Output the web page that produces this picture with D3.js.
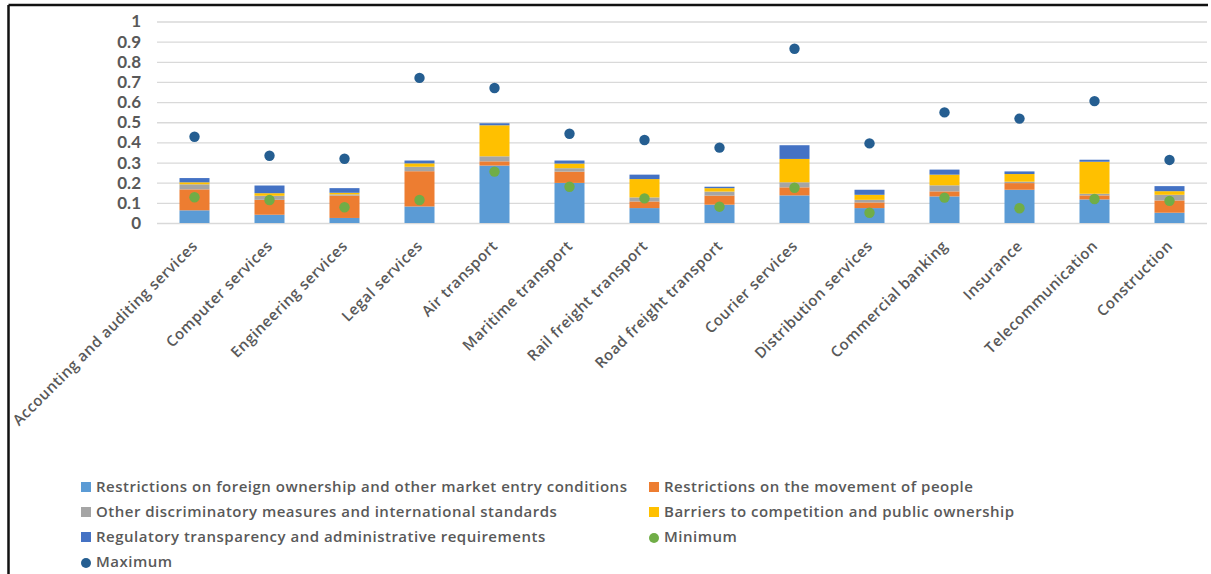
<!DOCTYPE html>
<html>
<head>
<meta charset="utf-8">
<script src="https://cdn.jsdelivr.net/npm/d3@7"></script>
<style>
  html, body { margin: 0; padding: 0; background: #fff; }
  svg { display: block; }
</style>
</head>
<body>
<svg id="chart" width="1211" height="574"></svg>
<script>
// sectors on the x axis
const sectors = [
  'Accounting and auditing services', 'Computer services', 'Engineering services',
  'Legal services', 'Air transport', 'Maritime transport', 'Rail freight transport',
  'Road freight transport', 'Courier services', 'Distribution services',
  'Commercial banking', 'Insurance', 'Telecommunication', 'Construction'
];

// stacked components
const foreignEntry = [0.063, 0.041, 0.025, 0.082, 0.285, 0.199, 0.074, 0.091, 0.137, 0.074, 0.132, 0.165, 0.117, 0.051];
const movementPeople = [0.104, 0.074, 0.111, 0.175, 0.021, 0.056, 0.033, 0.045, 0.040, 0.028, 0.025, 0.033, 0.020, 0.061];
const otherDiscrim = [0.025, 0.020, 0.006, 0.022, 0.025, 0.017, 0.020, 0.020, 0.025, 0.013, 0.030, 0.007, 0.008, 0.028];
const competition = [0.010, 0.013, 0.008, 0.017, 0.154, 0.023, 0.091, 0.017, 0.116, 0.025, 0.053, 0.038, 0.159, 0.018];
const transparency = [0.021, 0.038, 0.023, 0.014, 0.010, 0.015, 0.022, 0.007, 0.068, 0.025, 0.025, 0.013, 0.010, 0.025];

// markers
const minimum = [0.128, 0.114, 0.078, 0.114, 0.255, 0.180, 0.122, 0.081, 0.175, 0.051, 0.126, 0.073, 0.119, 0.110];
const maximum = [0.428, 0.334, 0.319, 0.720, 0.670, 0.443, 0.412, 0.374, 0.865, 0.395, 0.549, 0.518, 0.605, 0.313];

const yTicks = [0, 0.1, 0.2, 0.3, 0.4, 0.5, 0.6, 0.7, 0.8, 0.9, 1];

const seriesNames = [
  'Restrictions on foreign ownership and other market entry conditions',
  'Restrictions on the movement of people',
  'Other discriminatory measures and international standards',
  'Barriers to competition and public ownership',
  'Regulatory transparency and administrative requirements'
];
const seriesColors = ['#5B9BD5', '#ED7D31', '#A5A5A5', '#FFC000', '#4472C4'];
const minColor = '#70AD47', maxColor = '#255E91';

const width = 1211, height = 574;
const plot = { left: 157, right: 1207, top: 21.5, bottom: 223 };
const font = '"Open Sans", Lato, sans-serif';

const svg = d3.select('#chart');
svg.append('rect').attr('width', width).attr('height', height).attr('fill', '#fff');

// frame of the cropped figure
svg.append('line').attr('x1', 8.5).attr('x2', 1208).attr('y1', 5).attr('y2', 5)
  .attr('stroke', '#111').attr('stroke-width', 2.5);
svg.append('line').attr('x1', 8.5).attr('x2', 8.5).attr('y1', 5).attr('y2', height)
  .attr('stroke', '#111').attr('stroke-width', 2.5);

const x = d3.scaleBand()
  .domain(sectors)
  .range([plot.left, plot.right])
  .paddingInner(0.6)
  .paddingOuter(0.3);

const y = d3.scaleLinear()
  .domain([0, 1])
  .range([plot.bottom, plot.top]);

// gridlines + y labels
svg.append('g')
  .attr('transform', `translate(${plot.left},0)`)
  .call(d3.axisLeft(y).tickValues(yTicks).tickFormat(d => d3.format('~g')(d)).tickSize(0).tickPadding(16))
  .call(g => g.select('.domain').remove())
  .call(g => g.selectAll('.tick line').clone()
    .attr('x2', plot.right - plot.left)
    .attr('stroke', '#D9D9D9')
    .attr('stroke-width', 1.3))
  .call(g => g.selectAll('.tick text')
    .attr('fill', '#595959')
    .attr('font-family', 'Lato, sans-serif')
    .attr('font-weight', 700)
    .attr('font-size', 17));

// stacked bars
const rows = sectors.map((s, i) => ({
  sector: s,
  s0: foreignEntry[i], s1: movementPeople[i], s2: otherDiscrim[i],
  s3: competition[i], s4: transparency[i]
}));
const stack = d3.stack().keys(['s0', 's1', 's2', 's3', 's4']);
const series = stack(rows);

svg.append('g')
  .selectAll('g')
  .data(series)
  .join('g')
    .attr('fill', (d, i) => seriesColors[i])
  .selectAll('rect')
  .data(d => d)
  .join('rect')
    .attr('x', d => x(d.data.sector))
    .attr('width', x.bandwidth())
    .attr('y', d => y(d[1]))
    .attr('height', d => y(d[0]) - y(d[1]));

// minimum and maximum markers
svg.append('g')
  .selectAll('circle')
  .data(sectors)
  .join('circle')
    .attr('cx', d => x(d) + x.bandwidth() / 2)
    .attr('cy', (d, i) => y(minimum[i]))
    .attr('r', 5.2)
    .attr('fill', minColor);

svg.append('g')
  .selectAll('circle')
  .data(sectors)
  .join('circle')
    .attr('cx', d => x(d) + x.bandwidth() / 2)
    .attr('cy', (d, i) => y(maximum[i]))
    .attr('r', 5.2)
    .attr('fill', maxColor);

// rotated category labels
svg.append('g')
  .selectAll('text')
  .data(sectors)
  .join('text')
    .attr('transform', d => `translate(${x(d) + x.bandwidth() / 2 + 4},${plot.bottom + 24}) rotate(-45)`)
    .attr('text-anchor', 'end')
    .attr('fill', '#595959')
    .attr('font-family', font)
    .attr('font-weight', 600)
    .attr('font-size', 15)
    .attr('letter-spacing', 0.5)
    .text(d => d);

// legend
const legendItems = [
  { name: seriesNames[0], color: seriesColors[0], col: 0, row: 0, type: 'rect' },
  { name: seriesNames[1], color: seriesColors[1], col: 1, row: 0, type: 'rect' },
  { name: seriesNames[2], color: seriesColors[2], col: 0, row: 1, type: 'rect' },
  { name: seriesNames[3], color: seriesColors[3], col: 1, row: 1, type: 'rect' },
  { name: seriesNames[4], color: seriesColors[4], col: 0, row: 2, type: 'rect' },
  { name: 'Minimum', color: minColor, col: 1, row: 2, type: 'circle' },
  { name: 'Maximum', color: maxColor, col: 0, row: 3, type: 'circle' }
];
const colX = [81, 649], rowY0 = 487, rowStep = 25;

const lg = svg.append('g')
  .selectAll('g')
  .data(legendItems)
  .join('g')
    .attr('transform', d => `translate(${colX[d.col]},${rowY0 + d.row * rowStep})`);

lg.filter(d => d.type === 'rect').append('rect')
  .attr('x', 0).attr('y', -5).attr('width', 10).attr('height', 10)
  .attr('fill', d => d.color);
lg.filter(d => d.type === 'circle').append('circle')
  .attr('cx', 5).attr('cy', 1).attr('r', 5)
  .attr('fill', d => d.color);
lg.append('text')
  .attr('x', 15)
  .attr('dy', '0.35em')
  .attr('fill', '#595959')
  .attr('font-family', font)
  .attr('font-weight', 600)
  .attr('font-size', 15)
  .attr('letter-spacing', 0.5)
  .text(d => d.name);
</script>
</body>
</html>
